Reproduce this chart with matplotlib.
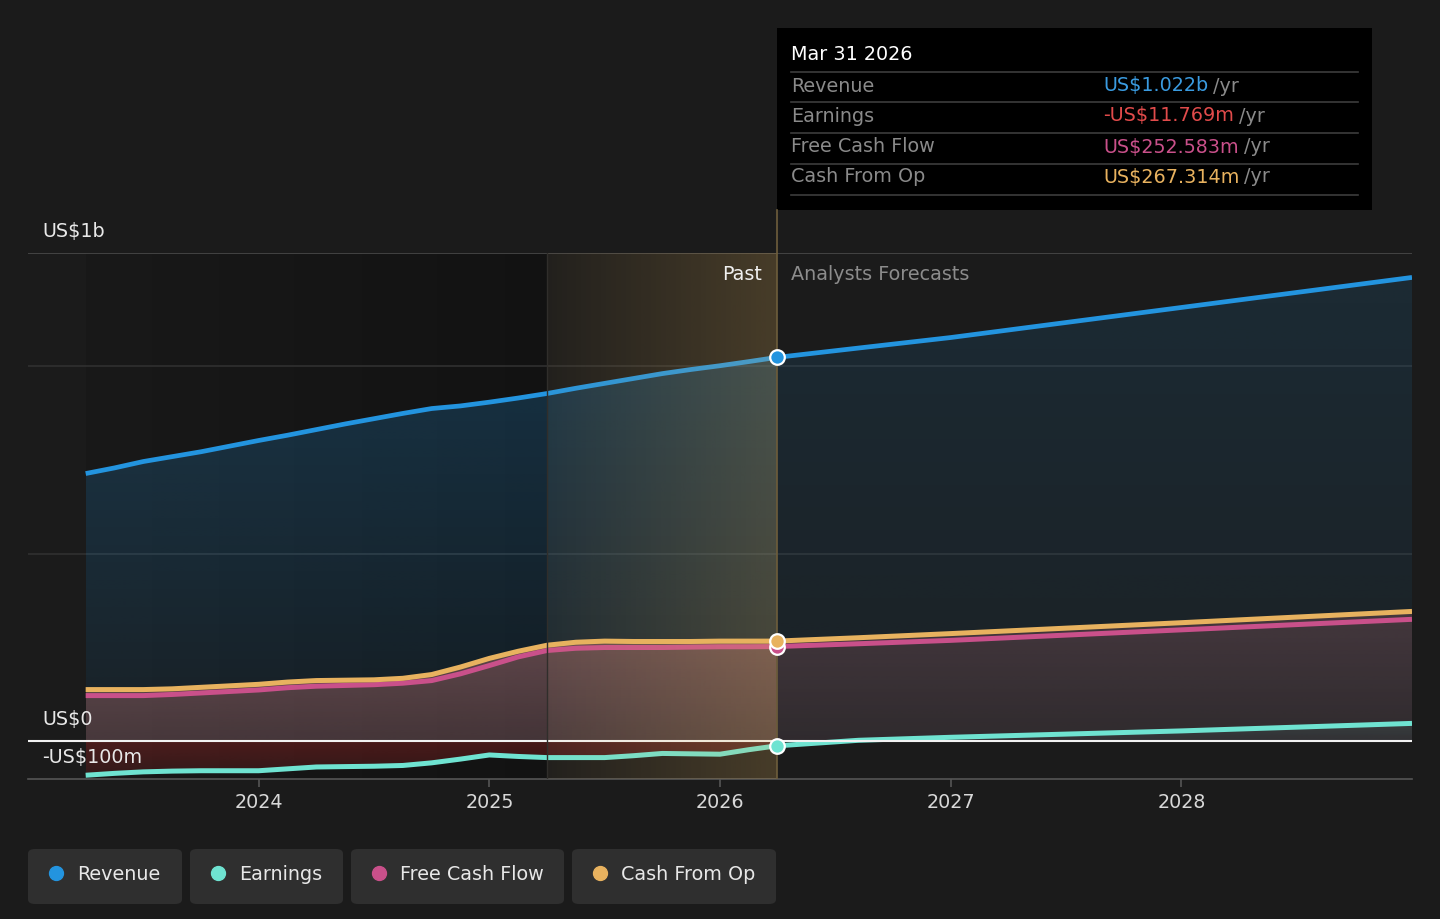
import numpy as np
import matplotlib.pyplot as plt
from matplotlib.colors import to_rgb
from matplotlib.patches import PathPatch, FancyBboxPatch, Rectangle
from matplotlib.lines import Line2D

# ---- data (US$ billions) ----
past_dates = [2023.25, 2023.375, 2023.5, 2023.625, 2023.75, 2023.875, 2024.0, 2024.125,
              2024.25, 2024.375, 2024.5, 2024.625, 2024.75, 2024.875, 2025.0, 2025.125,
              2025.25, 2025.375, 2025.5, 2025.625, 2025.75, 2025.875, 2026.0, 2026.125, 2026.245]
revenue_past = [0.713, 0.728, 0.745, 0.758, 0.771, 0.786, 0.801, 0.815, 0.830, 0.845, 0.859,
                0.873, 0.886, 0.893, 0.903, 0.914, 0.926, 0.940, 0.953, 0.966, 0.979, 0.990,
                1.000, 1.011, 1.022]
earnings_past = [-0.090, -0.085, -0.081, -0.079, -0.078, -0.078, -0.078, -0.073, -0.068, -0.067,
                 -0.066, -0.064, -0.057, -0.047, -0.036, -0.040, -0.043, -0.043, -0.043, -0.038,
                 -0.032, -0.033, -0.034, -0.022, -0.0118]
fcf_past = [0.122, 0.122, 0.122, 0.125, 0.129, 0.133, 0.137, 0.143, 0.147, 0.149, 0.151, 0.155,
            0.162, 0.180, 0.202, 0.225, 0.242, 0.248, 0.250, 0.250, 0.250, 0.251, 0.252, 0.252, 0.2526]
cfo_past = [0.138, 0.138, 0.138, 0.140, 0.144, 0.148, 0.152, 0.158, 0.162, 0.163, 0.164, 0.168,
            0.178, 0.198, 0.221, 0.240, 0.256, 0.264, 0.267, 0.266, 0.266, 0.266, 0.267, 0.267, 0.267]

fc_dates = [2026.245, 2026.6, 2027.0, 2028.0, 2029.0]
revenue_fc = [1.022, 1.047, 1.075, 1.155, 1.235]
earnings_fc = [-0.0118, 0.003, 0.011, 0.028, 0.048]
fcf_fc = [0.2526, 0.260, 0.269, 0.297, 0.325]
cfo_fc = [0.267, 0.276, 0.287, 0.316, 0.346]

years = [2024, 2025, 2026, 2027, 2028]
c_rev, c_earn, c_fcf, c_cfo = '#2394df', '#6fe3d1', '#c9508a', '#e8b25f'
bg = '#1b1b1b'
fs = 13.8

fig = plt.figure(figsize=(14.4, 9.19), dpi=100, facecolor=bg)
W, H = 1440, 919
ax = fig.add_axes([28 / W, 1 - 779 / H, 1384 / W, 526 / H])
ax.set_facecolor(bg)


def grad_fill(x, y, color, a_top, a_bot, z, y0=0.0):
    x = np.asarray(x); y = np.asarray(y)
    poly = ax.fill_between(x, y, y0, color='none', lw=0)
    patch = PathPatch(poly.get_paths()[0], facecolor='none', edgecolor='none', transform=ax.transData)
    ax.add_patch(patch)
    lo, hi = min(y.min(), y0), max(y.max(), y0)
    img = np.zeros((200, 1, 4))
    img[..., :3] = to_rgb(color)
    img[:, 0, 3] = np.linspace(a_bot, a_top, 200)
    im = ax.imshow(img, aspect='auto', extent=[x.min(), x.max(), lo, hi], origin='lower',
                   zorder=z, interpolation='bilinear')
    im.set_clip_path(patch)


def hband(x0, x1, color, a0, a1, z):
    img = np.zeros((1, 200, 4))
    img[..., :3] = to_rgb(color)
    img[0, :, 3] = np.linspace(a0, a1, 200)
    ax.imshow(img, aspect='auto', extent=[x0, x1, -0.1, 1.3], origin='lower', zorder=z,
              interpolation='bilinear')


# past shading behind the data
hband(2023.25, 2025.25, '#000000', 0.08, 0.32, 0.5)

# grid
for g, c in [(1.3, '#4a4a4a'), (1.0, '#303030'), (0.5, '#303030')]:
    ax.axhline(g, color=c, lw=1.2, zorder=1)

# fills
grad_fill(past_dates, revenue_past, c_rev, 0.24, 0.07, 2)
grad_fill(fc_dates, revenue_fc, c_rev, 0.13, 0.05, 2)
grad_fill(past_dates, cfo_past, '#c87a78', 0.42, 0.27, 3)
grad_fill(fc_dates, cfo_fc, '#c8787e', 0.24, 0.12, 3)
grad_fill(past_dates, np.minimum(earnings_past, 0), '#c82828', 0.30, 0.16, 3)
grad_fill(fc_dates, np.maximum(earnings_fc, 0), c_earn, 0.10, 0.04, 3)

# highlighted last year of the past
hband(2025.25, 2026.245, '#e6b45a', 0.04, 0.22, 9)
ax.axvline(2025.25, color='#302e2b', lw=1.0, zorder=9)
ax.axvline(2026.245, color='#6e5e3c', lw=1.2, zorder=9)
fig.add_artist(Line2D([776.5 / W, 776.5 / W], [1 - 253 / H, 1 - 210 / H], color='#6e5e3c', lw=1.2))

# lines
ax.plot(past_dates, revenue_past, color=c_rev, lw=3.4, zorder=6, solid_capstyle='butt')
ax.plot(fc_dates, revenue_fc, color=c_rev, lw=3.4, zorder=6, solid_capstyle='butt')
for d, fc, col in [(fcf_past, fcf_fc, c_fcf), (cfo_past, cfo_fc, c_cfo), (earnings_past, earnings_fc, c_earn)]:
    ax.plot(past_dates, d, color=col, lw=3.6, zorder=6, solid_capstyle='butt')
    ax.plot(fc_dates, fc, color=col, lw=3.6, zorder=6, solid_capstyle='butt')

ax.axhline(0, color='#f2f2f2', lw=1.5, zorder=7)

# markers at the tooltip date
for val, col in [(fcf_past[-1], c_fcf), (cfo_past[-1], c_cfo), (earnings_past[-1], c_earn),
                 (revenue_past[-1], c_rev)]:
    ax.plot(past_dates[-1], val, 'o', ms=10.5, mfc=col, mec='white', mew=1.6, zorder=12)

ax.set_xlim(2023.0, 2029.0)
ax.set_ylim(-0.1, 1.3)
ax.set_yticks([])
ax.set_xticks(years)
ax.set_xticklabels([str(y) for y in years])
ax.tick_params(axis='x', colors='#555555', length=6, width=1.2, pad=4, labelsize=fs,
               labelcolor='#d8d8d8')
for s in ['top', 'left', 'right']:
    ax.spines[s].set_visible(False)
ax.spines['bottom'].set_color('#555555')
ax.spines['bottom'].set_linewidth(1.2)

# y labels
for txt, py in [('US$1b', 231), ('US$0', 720), ('-US$100m', 758)]:
    fig.text(42 / W, 1 - py / H, txt, color='#e8e8e8', fontsize=fs, va='center', ha='left', zorder=20)

fig.text(762 / W, 1 - 274 / H, 'Past', color='#f0f0f0', fontsize=fs, va='center', ha='right')
fig.text(791 / W, 1 - 274 / H, 'Analysts Forecasts', color='#8c8c8c', fontsize=fs, va='center', ha='left')

# tooltip
fig.add_artist(Rectangle((777 / W, 1 - 210 / H), 595 / W, 182 / H, transform=fig.transFigure,
                         facecolor='#000000', edgecolor='none'))
fig.text(791 / W, 1 - 54 / H, 'Mar 31 2026', color='white', fontsize=fs, va='center')
for ly in [72, 102, 133, 164, 195]:
    fig.add_artist(Line2D([791 / W, 1358 / W], [1 - ly / H, 1 - ly / H], color='#3d3d3d', lw=1.2))
rows = [('Revenue', 'US$1.022b', '#3a9be0', 86),
        ('Earnings', '-US$11.769m', '#e14b4b', 116),
        ('Free Cash Flow', 'US$252.583m', '#c9508a', 147),
        ('Cash From Op', 'US$267.314m', '#e8b25f', 177)]
renderer = fig.canvas.get_renderer()
for lab, val, col, ry in rows:
    fig.text(791 / W, 1 - ry / H, lab, color='#8a8a8a', fontsize=fs, va='center')
    t = fig.text(1103 / W, 1 - ry / H, val, color=col, fontsize=fs, va='center')
    bb = t.get_window_extent(renderer)
    fig.text(bb.x1 / W + 5 / W, 1 - ry / H, '/yr', color='#8a8a8a', fontsize=fs, va='center')

# legend
legend = [('Revenue', c_rev, 28, 182), ('Earnings', c_earn, 190, 343),
          ('Free Cash Flow', c_fcf, 351, 564), ('Cash From Op', c_cfo, 572, 776)]
for name, col, x0, x1 in legend:
    fig.add_artist(FancyBboxPatch((x0 / W, 1 - 904 / H), (x1 - x0) / W, 55 / H,
                                  boxstyle='round,pad=0,rounding_size=0.005',
                                  transform=fig.transFigure, facecolor='#2f2f2f', edgecolor='none'))
    fig.add_artist(Line2D([(x0 + 28) / W], [1 - 873 / H], marker='o', ms=10, color=col, mec=col))
    fig.text((x0 + 49) / W, 1 - 874 / H, name, color='#e8e8e8', fontsize=fs, va='center')

fig.savefig('out.png', dpi=100, facecolor=bg)
